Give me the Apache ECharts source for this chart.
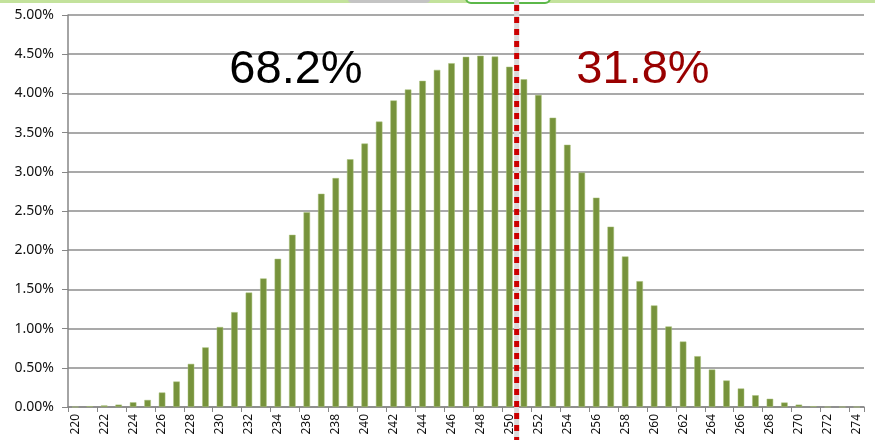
<!DOCTYPE html>
<html>
<head>
<meta charset="utf-8">
<script src="https://cdn.jsdelivr.net/npm/echarts@6/dist/echarts.min.js"></script>
<style>
  html, body { margin: 0; padding: 0; background: #fff; }
  #main { width: 875px; height: 440px; }
</style>
</head>
<body>
<div id="main"></div>
<script>
// x categories 220..274
var categories = ['220','221','222','223','224','225','226','227','228','229',
    '230','231','232','233','234','235','236','237','238','239',
    '240','241','242','243','244','245','246','247','248','249',
    '250','251','252','253','254','255','256','257','258','259',
    '260','261','262','263','264','265','266','267','268','269',
    '270','271','272','273','274'];
// share in %
var shares = [0, 0.01, 0.02, 0.03, 0.06, 0.09, 0.185, 0.325, 0.55, 0.76,
    1.02, 1.21, 1.46, 1.64, 1.89, 2.196, 2.485, 2.72, 2.92, 3.16,
    3.36, 3.64, 3.91, 4.05, 4.16, 4.30, 4.385, 4.466, 4.48, 4.47,
    4.34, 4.18, 3.98, 3.69, 3.345, 2.99, 2.67, 2.30, 1.92, 1.605,
    1.295, 1.027, 0.835, 0.648, 0.478, 0.338, 0.236, 0.15, 0.105, 0.057,
    0.03, 0.01, 0, 0, 0];
var leftText = '68.2%';
var rightText = '31.8%';
var cutLeft = '250', cutRight = '251';

var myChart = echarts.init(document.getElementById('main'));

var option = {
    animation: false,
    grid: { left: 68, right: 11, top: 15, bottom: 33 },
    xAxis: {
        type: 'category',
        data: categories,
        axisLine: { lineStyle: { color: '#868686', width: 1.5 } },
        axisTick: { show: true, length: 5, lineStyle: { color: '#868686' } },
        axisLabel: {
            interval: 1,
            rotate: 90,
            color: '#111',
            fontSize: 12,
            fontFamily: 'Noto Sans',
            margin: 7
        },
        splitLine: { show: false }
    },
    yAxis: {
        type: 'value',
        min: 0,
        max: 5,
        interval: 0.5,
        axisLine: { show: true, lineStyle: { color: '#868686', width: 1.5 } },
        axisTick: { show: true, length: 6, inside: false, lineStyle: { color: '#868686' } },
        axisLabel: {
            color: '#111',
            fontSize: 14,
            fontFamily: 'Noto Sans',
            margin: 14,
            formatter: function (v) { return v.toFixed(2) + '%'; }
        },
        splitLine: { lineStyle: { color: '#8c8c8c', width: 1.5 } }
    },
    series: [{
        type: 'bar',
        data: shares,
        barWidth: 6.5,
        itemStyle: {
            color: '#77933c',
            borderColor: '#a9c07a',
            borderWidth: 0.5
        }
    }]
};

myChart.setOption(option);

// dashed cut line between 250 and 251, plus the two share labels
var xa = myChart.convertToPixel({ xAxisIndex: 0 }, cutLeft);
var xb = myChart.convertToPixel({ xAxisIndex: 0 }, cutRight);
var cutX = (xa + xb) / 2;

myChart.setOption({
    graphic: [
        { type: 'rect', shape: { x: 0, y: 0, width: 875, height: 3 }, style: { fill: '#c3e29c' }, z: 10 },
        { type: 'rect', shape: { x: 348, y: -8, width: 82, height: 11, r: 4 }, style: { fill: '#c4c4c4' }, z: 11 },
        { type: 'rect', shape: { x: 466, y: -10, width: 84, height: 13, r: 5 }, style: { fill: '#fff', stroke: '#5cb84a', lineWidth: 2 }, z: 11 },
        { type: 'line', shape: { x1: cutX, y1: 0, x2: cutX, y2: 440 }, style: { stroke: '#dadada', lineWidth: 5 }, z: 20 },
        { type: 'line', shape: { x1: cutX, y1: 5, x2: cutX, y2: 440 }, style: { stroke: '#cc0000', lineWidth: 5, lineDash: [6, 6] }, z: 21 },
        {
            type: 'text', x: 296, y: 94, z: 30,
            style: { text: leftText, fill: '#000', font: '47px "Liberation Sans"', align: 'center', verticalAlign: 'bottom' }
        },
        {
            type: 'text', x: 643, y: 94, z: 30,
            style: { text: rightText, fill: '#990000', font: '47px "Liberation Sans"', align: 'center', verticalAlign: 'bottom' }
        }
    ]
});
</script>
</body>
</html>
